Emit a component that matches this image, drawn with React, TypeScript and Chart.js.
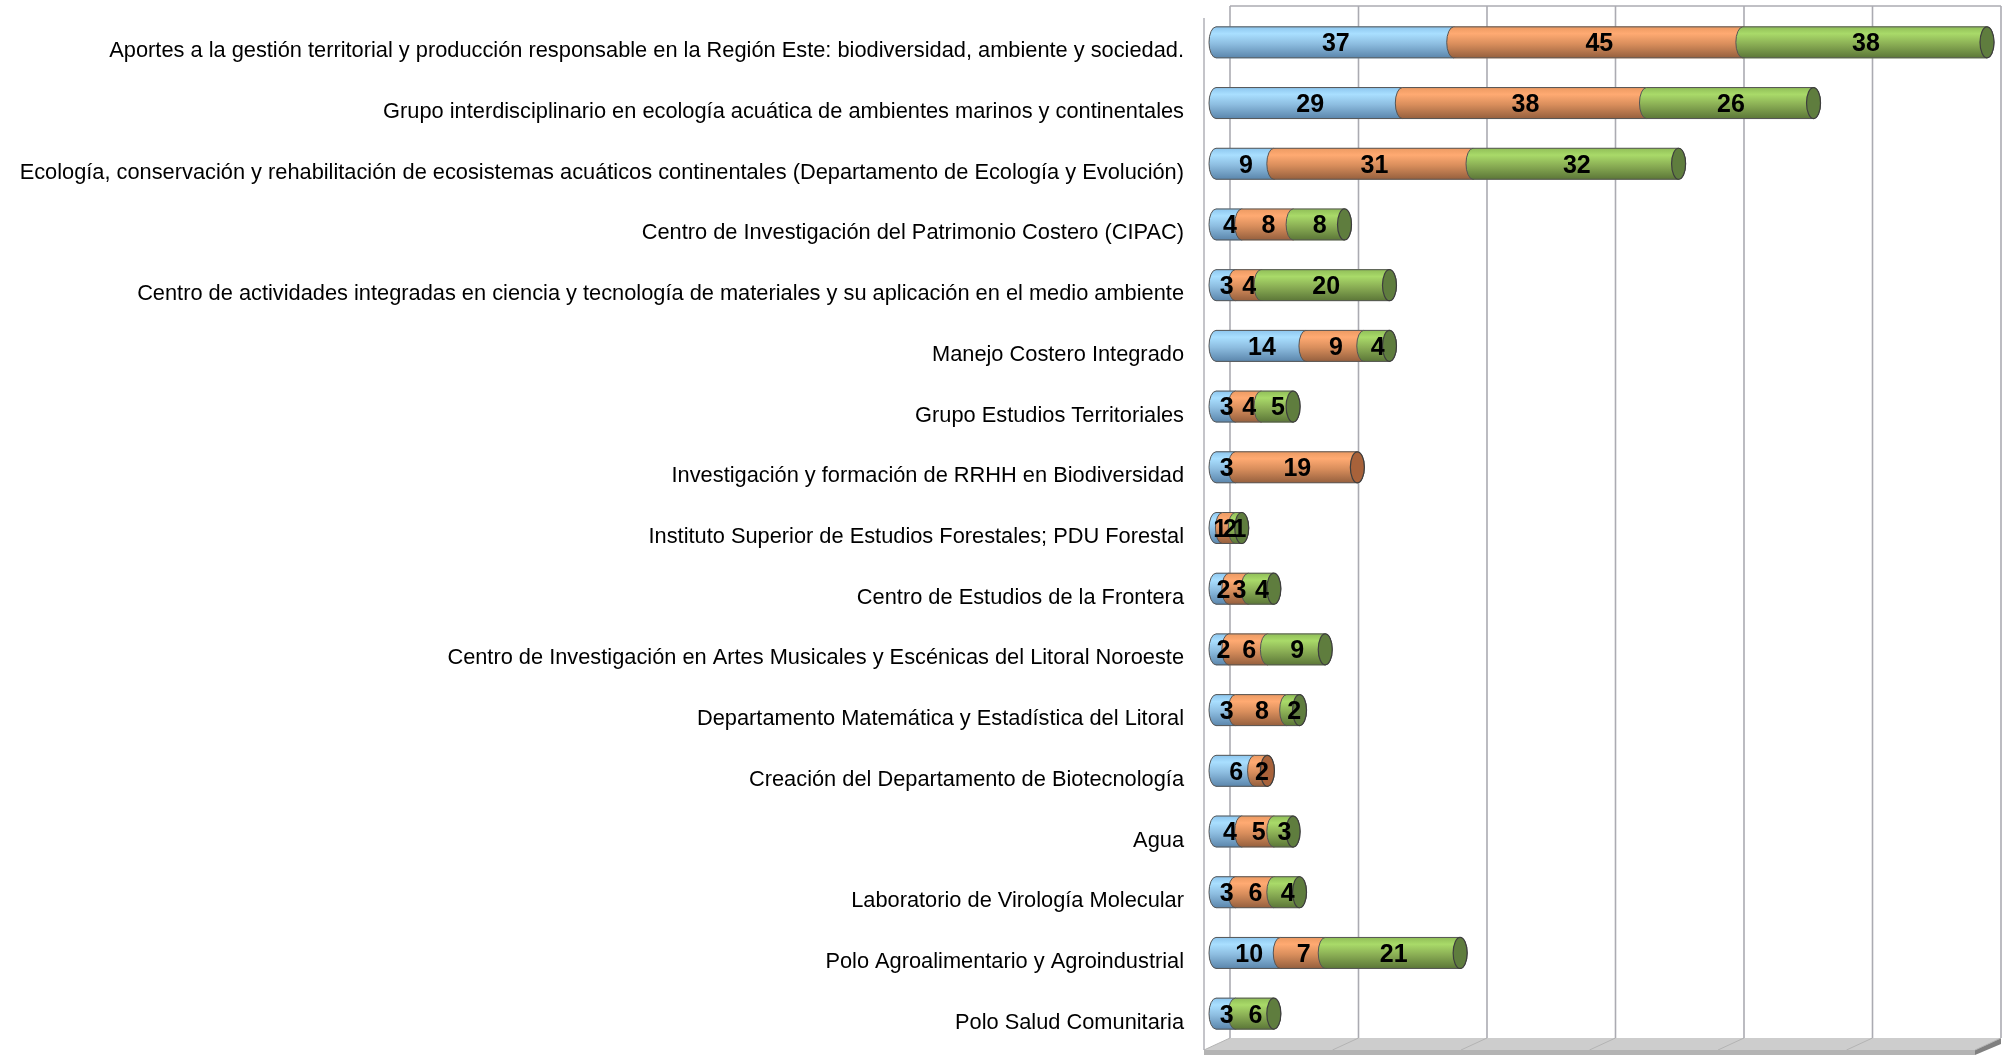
import React, { useEffect, useRef } from "react";
import { Chart, registerables } from "chart.js";

Chart.register(...registerables);

const categories = [
  "Aportes a la gestión territorial y producción responsable en la Región Este: biodiversidad, ambiente y sociedad.",
  "Grupo interdisciplinario en ecología acuática de ambientes marinos y continentales",
  "Ecología, conservación y rehabilitación de ecosistemas acuáticos continentales (Departamento de Ecología y Evolución)",
  "Centro de Investigación del Patrimonio Costero (CIPAC)",
  "Centro de actividades integradas en ciencia y tecnología de materiales y su aplicación en el medio ambiente",
  "Manejo Costero Integrado",
  "Grupo Estudios Territoriales",
  "Investigación y formación de RRHH en Biodiversidad",
  "Instituto Superior de Estudios Forestales; PDU Forestal",
  "Centro de Estudios de la Frontera",
  "Centro de Investigación en Artes Musicales y Escénicas del Litoral Noroeste",
  "Departamento Matemática y Estadística del Litoral",
  "Creación del Departamento de Biotecnología",
  "Agua",
  "Laboratorio de Virología Molecular",
  "Polo Agroalimentario y Agroindustrial",
  "Polo Salud Comunitaria",
];

const seriesA = [37, 29, 9, 4, 3, 14, 3, 3, 1, 2, 2, 3, 6, 4, 3, 10, 3];
const seriesB = [45, 38, 31, 8, 4, 9, 4, 19, 2, 3, 6, 8, 2, 5, 6, 7, null];
const seriesC = [38, 26, 32, 8, 20, 4, 5, null, 1, 4, 9, 2, null, 3, 4, 21, 6];

const axisMax = 120;
const axisStep = 20;

const palettes = [
  { base: "#8CC4EE", stops: ["#8DC6EE", "#A9DFFF", "#8DBDE0", "#5B86AC"], cap: "#6F9CC2" },
  { base: "#F09A62", stops: ["#EC9A62", "#FFAA72", "#D98E5C", "#96603E"], cap: "#A8623A" },
  { base: "#8FBF55", stops: ["#90BE58", "#A9DA69", "#8BAF55", "#5C7738"], cap: "#5F7D3E" },
];

const BACK_DX = 14;
const FRONT_DX = -12;
const BACK_TOP = 6;
const FRONT_TOP = 18;
const BACK_BOTTOM = 1038;
const FRONT_BOTTOM = 1050;
const STRIP_BOTTOM = 1055;
const CAP_RX = 7;

const wallsPlugin = {
  id: "walls",
  beforeDatasetsDraw(chart: any) {
    const { ctx, scales } = chart;
    const x = scales.x;
    const x0 = x.getPixelForValue(0);
    const x1 = x.getPixelForValue(axisMax);
    ctx.save();
    ctx.fillStyle = "#CDCDCD";
    ctx.beginPath();
    ctx.moveTo(x0 + FRONT_DX, FRONT_BOTTOM);
    ctx.lineTo(x0 + BACK_DX, BACK_BOTTOM);
    ctx.lineTo(x1 + BACK_DX, BACK_BOTTOM);
    ctx.lineTo(x1 + FRONT_DX, FRONT_BOTTOM);
    ctx.closePath();
    ctx.fill();
    ctx.fillStyle = "#B4B4B4";
    ctx.fillRect(x0 + FRONT_DX, FRONT_BOTTOM, x1 - x0, STRIP_BOTTOM - FRONT_BOTTOM);
    ctx.fillStyle = "#808080";
    ctx.beginPath();
    ctx.moveTo(x1 + FRONT_DX, FRONT_BOTTOM);
    ctx.lineTo(x1 + BACK_DX, BACK_BOTTOM);
    ctx.lineTo(x1 + BACK_DX, BACK_BOTTOM + 6);
    ctx.lineTo(x1 + FRONT_DX, STRIP_BOTTOM);
    ctx.closePath();
    ctx.fill();
    ctx.strokeStyle = "#ABABB2";
    ctx.lineWidth = 1.6;
    for (const tick of x.ticks) {
      const px = x.getPixelForValue(tick.value);
      ctx.beginPath();
      ctx.moveTo(px + BACK_DX, BACK_TOP);
      ctx.lineTo(px + BACK_DX, BACK_BOTTOM);
      ctx.stroke();
    }
    ctx.lineWidth = 1;
    ctx.strokeStyle = "#B4B4B4";
    for (const tick of x.ticks) {
      const px = x.getPixelForValue(tick.value);
      ctx.beginPath();
      ctx.moveTo(px + BACK_DX, BACK_BOTTOM);
      ctx.lineTo(px + FRONT_DX, FRONT_BOTTOM);
      ctx.stroke();
    }
    ctx.lineWidth = 1.4;
    ctx.strokeStyle = "#ABABB2";
    ctx.beginPath();
    ctx.moveTo(x0 + BACK_DX, BACK_TOP);
    ctx.lineTo(x1 + BACK_DX, BACK_TOP);
    ctx.stroke();
    ctx.beginPath();
    ctx.moveTo(x0 + FRONT_DX, FRONT_TOP);
    ctx.lineTo(x0 + FRONT_DX, FRONT_BOTTOM);
    ctx.stroke();
    ctx.restore();
  },
};

const cylinderPlugin = {
  id: "cylinders",
  afterDatasetsDraw(chart: any) {
    const { ctx } = chart;
    ctx.save();
    categories.forEach((_, index) => {
      let lastDrawn: any = null;
      let lastPalette = palettes[0];
      chart.data.datasets.forEach((ds: any, dsIndex: number) => {
        const value = ds.data[index];
        if (value == null) return;
        const bar = chart.getDatasetMeta(dsIndex).data[index];
        const { x, y, base, height } = bar.getProps(["x", "y", "base", "height"], true);
        const top = y - height / 2;
        const bottom = y + height / 2;
        const pal = palettes[dsIndex];
        const g = ctx.createLinearGradient(0, top, 0, bottom);
        g.addColorStop(0, pal.stops[0]);
        g.addColorStop(0.22, pal.stops[1]);
        g.addColorStop(0.55, pal.stops[2]);
        g.addColorStop(1, pal.stops[3]);
        ctx.beginPath();
        ctx.ellipse(base, y, CAP_RX, height / 2, 0, Math.PI * 1.5, Math.PI * 0.5, true);
        ctx.ellipse(x, y, CAP_RX, height / 2, 0, Math.PI * 0.5, Math.PI * 1.5, true);
        ctx.closePath();
        ctx.fillStyle = g;
        ctx.fill();
        ctx.lineWidth = 1;
        ctx.strokeStyle = "#555555";
        ctx.stroke();
        lastDrawn = { x, y, height };
        lastPalette = pal;
      });
      if (lastDrawn) {
        ctx.beginPath();
        ctx.ellipse(lastDrawn.x, lastDrawn.y, CAP_RX, lastDrawn.height / 2, 0, 0, Math.PI * 2);
        ctx.fillStyle = lastPalette.cap;
        ctx.fill();
        ctx.lineWidth = 1.2;
        ctx.strokeStyle = "#3E3E3E";
        ctx.stroke();
      }
    });
    ctx.fillStyle = "#000000";
    ctx.font = 'bold 25px "Liberation Sans", Arial, sans-serif';
    ctx.textAlign = "center";
    ctx.textBaseline = "middle";
    chart.data.datasets.forEach((ds: any, dsIndex: number) => {
      ds.data.forEach((value: number | null, index: number) => {
        if (value == null) return;
        const bar = chart.getDatasetMeta(dsIndex).data[index];
        const { x, y, base } = bar.getProps(["x", "y", "base"], true);
        ctx.fillText(String(value), (x + base) / 2 + 1, y + 2);
      });
    });
    ctx.restore();
  },
};

export default function App() {
  const ref = useRef<HTMLCanvasElement | null>(null);

  useEffect(() => {
    if (!ref.current) return;
    const chart = new Chart(ref.current, {
      type: "bar",
      data: {
        labels: categories,
        datasets: [seriesA, seriesB, seriesC].map((data, i) => ({
          label: ["Serie 1", "Serie 2", "Serie 3"][i],
          data,
          backgroundColor: palettes[i].base,
          barThickness: 31,
        })),
      } as any,
      options: {
        indexAxis: "y",
        animation: false,
        responsive: false,
        layout: { padding: { top: 12, bottom: 11, right: 17, left: 0 } },
        plugins: { legend: { display: false }, tooltip: { enabled: false }, title: { display: false } },
        scales: {
          x: {
            stacked: true,
            min: 0,
            max: axisMax,
            grid: { display: false },
            border: { display: false },
            ticks: { display: false, stepSize: axisStep },
            afterFit(scale: any) {
              scale.height = 0;
              scale.paddingLeft = 0;
              scale.paddingRight = 0;
            },
          },
          y: {
            stacked: true,
            grid: { display: false, drawTicks: false },
            border: { display: false },
            afterFit(scale: any) {
              scale.width = 1216;
              scale.paddingTop = 0;
              scale.paddingBottom = 0;
            },
            ticks: {
              autoSkip: false,
              padding: 32,
              color: "#000000",
              font: { family: '"Liberation Sans", Arial, sans-serif', size: 21.8, lineHeight: "18px" },
              callback(this: any, value: any) {
                return ["", this.getLabelForValue(value)];
              },
            },
          },
        },
      } as any,
      plugins: [wallsPlugin, cylinderPlugin],
    });
    return () => chart.destroy();
  }, []);

  return (
    <div style={{ position: "absolute", left: 0, top: 0, width: 2004, height: 1055, background: "#fff", overflow: "hidden" }}>
      <canvas ref={ref} width={2004} height={1055} style={{ display: "block" }} />
    </div>
  );
}
